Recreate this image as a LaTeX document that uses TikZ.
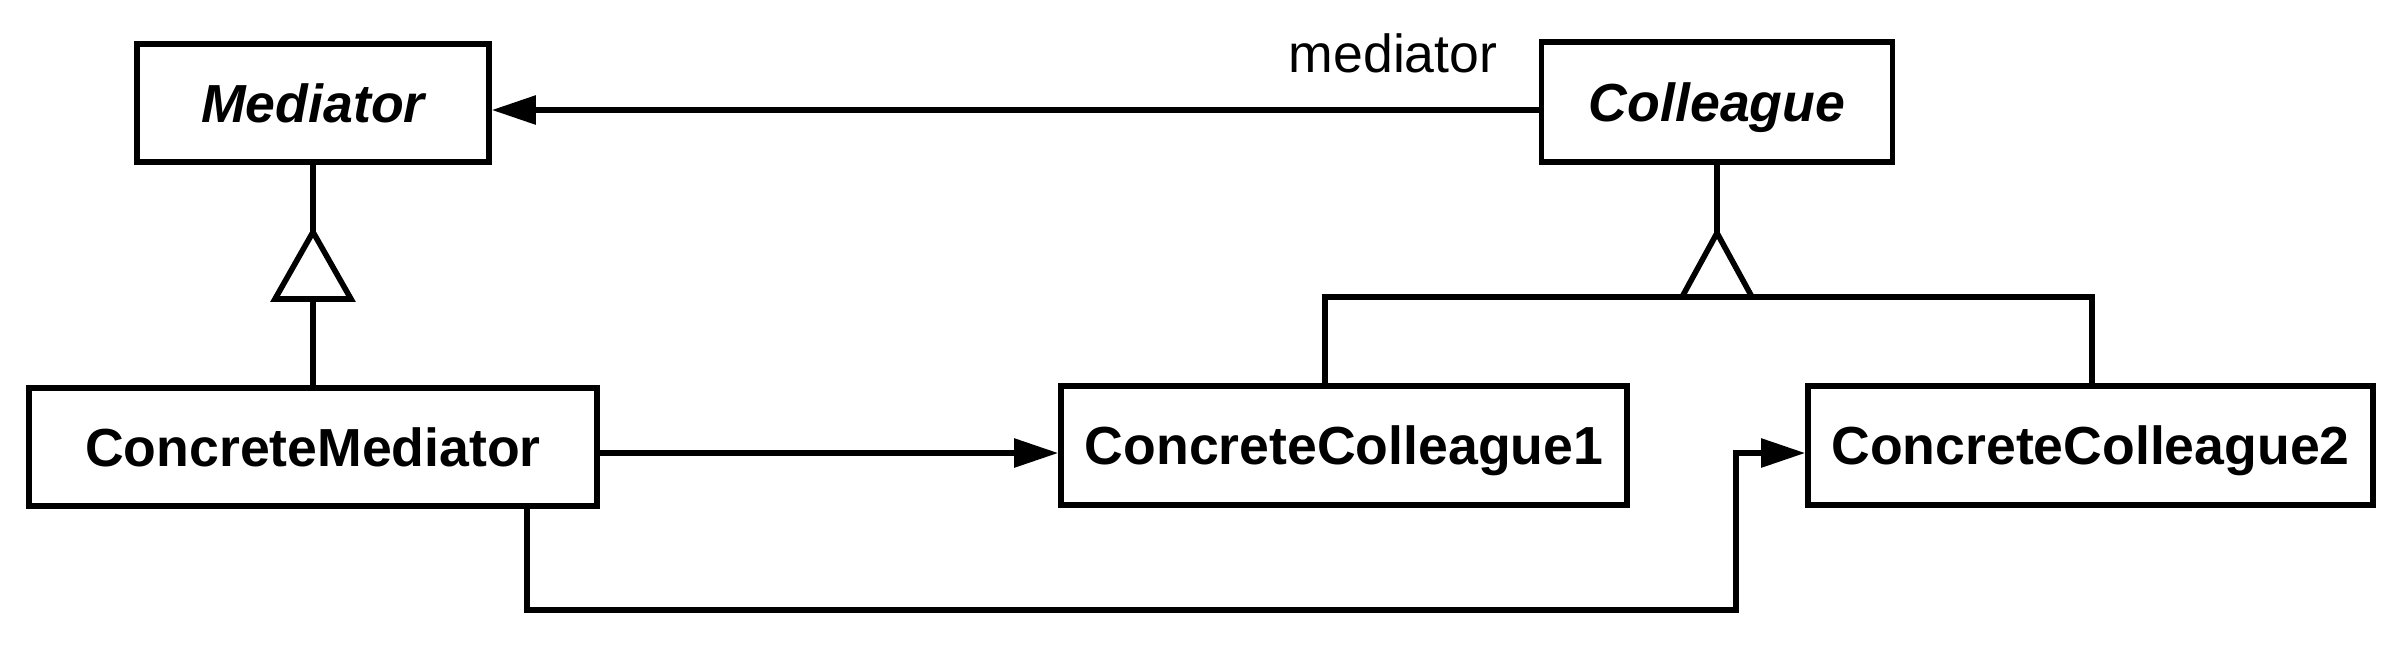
\documentclass[tikz,border=0pt]{standalone}
\usepackage{fontspec}
\setmainfont{Liberation Sans}
\usetikzlibrary{arrows.meta}
\tikzset{
  classbox/.style={draw, line width=1.4pt, inner sep=0pt, text height=9.6pt, text depth=0pt,
    font=\fontsize{13.4}{16}\selectfont\bfseries},
  abstract/.style={font=\fontsize{13.4}{16}\selectfont\bfseries\itshape},
  conn/.style={line width=1.4pt},
  arr/.style={line width=1.4pt, -{Triangle[length=11pt,width=7pt]}},
  gen/.style={line width=1.4pt, line join=miter},
  lbl/.style={inner sep=0pt, font=\fontsize{13.4}{16}\selectfont}
}
\begin{document}
\begin{tikzpicture}[x=0.25pt,y=-0.25pt]
\useasboundingbox[fill=white] (0,0) rectangle (2408,646);
% classes
\node[classbox, abstract, minimum width=88pt, minimum height=29.5pt] (med) at (313,103) {Mediator};
\node[classbox, abstract, minimum width=87.75pt, minimum height=30pt] (col) at (1717,102) {Colleague};
\node[classbox, minimum width=142pt, minimum height=29.5pt] (cm) at (313,447) {ConcreteMediator};
\node[classbox, minimum width=141.5pt, minimum height=29.75pt] (cc1) at (1344,445.5) {ConcreteColleague1};
\node[classbox, minimum width=141.25pt, minimum height=29.75pt] (cc2) at (2090.5,445.5) {ConcreteColleague2};
\node[lbl, anchor=base] (rolelbl) at (1393,72) {mediator};
% association Colleague -> Mediator
\draw[arr] (col.west |- 0,110) -- (med.east |- 0,110);
% Mediator generalization
\coordinate (mapex) at (313,232);
\coordinate (mbase) at (313,299);
\draw[conn] (med.south) -- (mapex);
\draw[gen] (mapex) -- (275,299) -- (351,299) -- cycle;
\draw[conn] (mbase) -- (cm.north);
% Colleague generalization
\coordinate (capex) at (1717,233);
\coordinate (cbase) at (1717,297);
\draw[conn] (col.south) -- (capex);
\draw[gen] (capex) -- (1682,297) -- (1752,297) -- cycle;
\draw[conn] (cc1.north -| 1325,0) |- (cbase) -| (cc2.north -| 2092,0);
% ConcreteMediator -> ConcreteColleague1
\draw[arr] (cm.east |- 0,453) -- (cc1.west |- 0,453);
% ConcreteMediator -> ConcreteColleague2
\coordinate (turn) at (1736,453);
\draw[arr, line join=miter] (cm.south -| 527,0) -- (527,610) -| (turn) -- (cc2.west |- turn);
\end{tikzpicture}
\end{document}
